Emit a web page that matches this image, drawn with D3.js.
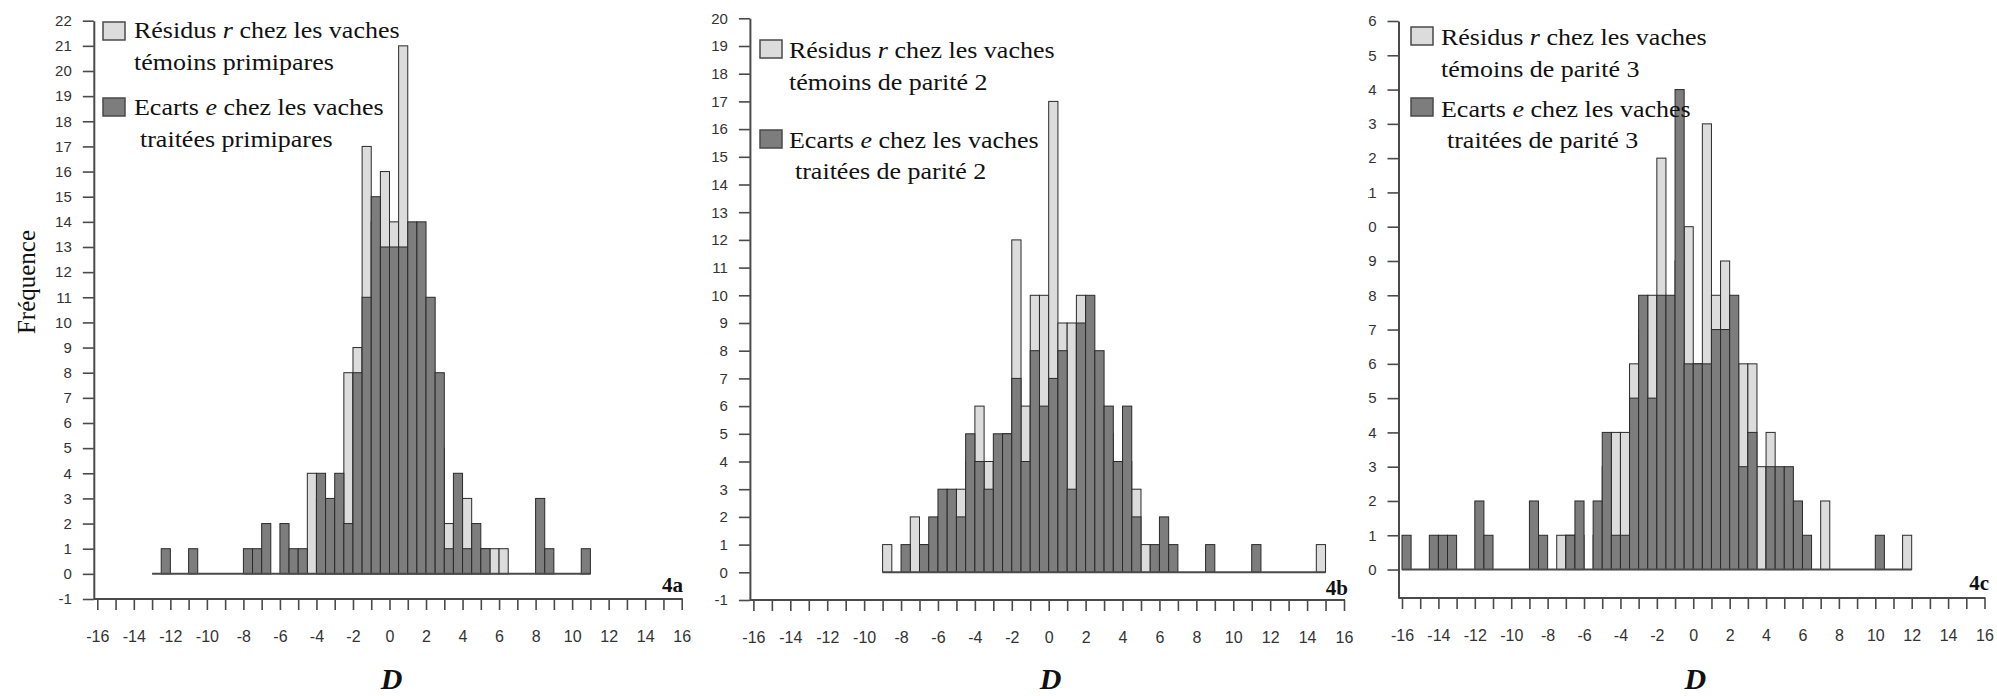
<!DOCTYPE html>
<html lang="fr">
<head>
<meta charset="UTF-8">
<title>Distribution de D</title>
<script src="https://d3js.org/d3.v7.min.js"></script>
<style>
  body{margin:0;background:#fff;}
  svg{display:block;}
  .serif{font-family:"Liberation Serif","Times New Roman",serif;fill:#111;}
</style>
</head>
<body>
<svg width="1997" height="696"></svg>
<script>
// ---- data: lower edge of each 0.5-wide bin with its counts ----
// 4a primipares
const binsA  = [-12.5,-11,-8,-7.5,-7,-6,-5.5,-5,-4.5,-4,-3.5,-3,-2.5,-2,-1.5,-1,-0.5,0,0.5,1,1.5,2,2.5,3,3.5,4,4.5,5,5.5,6,8,8.5,10.5];
const lightA = [0,0,0,0,0,0,0,0,4,3,2,3,8,9,17,14,16,14,21,12,10,7,5,2,2,3,1,1,1,1,0,0,0];
const darkA  = [1,1,1,1,2,2,1,1,0,4,3,4,2,8,11,15,13,13,13,14,14,11,8,1,4,1,2,1,0,0,3,1,1];
const spanA  = [-13, 11];
// 4b parite 2
const binsB  = [-9,-8,-7.5,-7,-6.5,-6,-5.5,-5,-4.5,-4,-3.5,-3,-2.5,-2,-1.5,-1,-0.5,0,0.5,1,1.5,2,2.5,3,3.5,4,4.5,5,5.5,6,6.5,8.5,11,14.5];
const lightB = [1,0,2,1,1,2,2,3,4,6,4,4,5,12,6,10,10,17,9,9,10,7,6,5,3,4,3,1,0,1,0,0,0,1];
const darkB  = [0,1,0,1,2,3,3,2,5,4,3,5,5,7,4,8,6,7,8,3,9,10,8,6,4,6,2,0,1,2,1,1,1,0];
const spanB  = [-9, 15];
// 4c parite 3
const binsC  = [-16,-14.5,-14,-13.5,-12,-11.5,-9,-8.5,-7.5,-7,-6.5,-5.5,-5,-4.5,-4,-3.5,-3,-2.5,-2,-1.5,-1,-0.5,0,0.5,1,1.5,2,2.5,3,3.5,4,4.5,5,5.5,6,7,10,11.5];
const lightC = [0,0,0,0,0,0,0,0,1,1,1,1,3,4,4,6,7,8,12,7,9,10,6,13,8,9,6,6,6,3,4,2,2,1,0,2,0,1];
const darkC  = [1,1,1,1,2,1,2,1,0,1,2,2,4,1,1,5,8,5,8,8,14,6,6,6,7,7,8,3,4,0,3,3,3,2,1,0,1,0];
const spanC  = [-16, 12];

// ---- ticks ----
const xTickLabels = ["-16","-14","-12","-10","-8","-6","-4","-2","0","2","4","6","8","10","12","14","16"];
const yTicksA = [-1,0,1,2,3,4,5,6,7,8,9,10,11,12,13,14,15,16,17,18,19,20,21,22];
const yTicksB = [-1,0,1,2,3,4,5,6,7,8,9,10,11,12,13,14,15,16,17,18,19,20];
const yTicksC = [0,1,2,3,4,5,6,7,8,9,10,11,12,13,14,15,16];

const legendA = ["Résidus *r* chez les vaches","témoins primipares","Ecarts *e* chez les vaches","traitées primipares"];
const legendB = ["Résidus *r* chez les vaches","témoins de parité 2","Ecarts *e* chez les vaches","traitées de parité 2"];
const legendC = ["Résidus *r* chez les vaches","témoins de parité 3","Ecarts *e* chez les vaches","traitées de parité 3"];

const LIGHT = "#dcdcdc", DARK = "#7d7d7d", EDGE = "#2a2a2a", AXIS = "#4a4a4a";
const BIN = 0.5;

const panels = [
  {tag:"4a", bins:binsA, light:lightA, dark:darkA, span:spanA, yTicks:yTicksA, yDomain:[-1,22],
   xr:[97.3,681.7], yr:[599,20.7], legend:legendA,
   sw:{x:103, y:[22,98]}, tx:[134,134,134,140], ty:[38,70,115,147], tagPos:[683,592], ylab:true},
  {tag:"4b", bins:binsB, light:lightB, dark:darkB, span:spanB, yTicks:yTicksB, yDomain:[-1,20],
   xr:[753.4,1344], yr:[600,18.3], legend:legendB,
   sw:{x:760, y:[40,130]}, tx:[789,789,789,795], ty:[58,90,148,179], tagPos:[1348,595]},
  {tag:"4c", bins:binsC, light:lightC, dark:darkC, span:spanC, yTicks:yTicksC, yDomain:[-0.83,16],
   xr:[1402,1984.5], yr:[598,21], legend:legendC,
   sw:{x:1411, y:[27,98]}, tx:[1441,1441,1441,1447], ty:[45,77,117,148], tagPos:[1989,590], clipX:1368}
];

const svg = d3.select("svg");
const defs = svg.append("defs");

panels.forEach((p, i) => {
  const g = svg.append("g");
  if (p.clipX) {
    // the left edge of this panel is cropped in the original figure
    defs.append("clipPath").attr("id","clip"+i)
      .append("rect").attr("x",p.clipX).attr("y",0).attr("width",1997-p.clipX).attr("height",696);
    g.attr("clip-path","url(#clip"+i+")");
  }
  const x = d3.scaleLinear().domain([-16,16]).range(p.xr);
  const y = d3.scaleLinear().domain(p.yDomain).range(p.yr);
  const axisX = p.xr[0] - 3.5;
  const data = p.bins.map((b,k) => ({b, l:p.light[k], d:p.dark[k]}));

  // y axis
  const ya = g.append("g").attr("transform",`translate(${axisX},0)`)
    .call(d3.axisLeft(y).tickValues(p.yTicks).tickSize(11).tickPadding(11).tickSizeOuter(0).tickFormat(d => String(d)));
  ya.select(".domain").attr("stroke",AXIS).attr("stroke-width",2);
  ya.selectAll(".tick line").attr("stroke",AXIS).attr("stroke-width",1.6);
  ya.selectAll(".tick text").attr("font-family","'Liberation Sans',Arial,sans-serif")
    .attr("font-size",15).attr("fill","#333");

  // x axis
  const xa = g.append("g").attr("transform",`translate(0,${p.yr[0]})`)
    .call(d3.axisBottom(x).tickValues(d3.range(-16,17)).tickSize(11).tickPadding(21)
      .tickFormat(d => d % 2 === 0 ? xTickLabels[(d + 16) / 2] : ""));
  xa.select(".domain").remove();
  xa.selectAll(".tick line").attr("stroke",AXIS).attr("stroke-width",1.6);
  xa.selectAll(".tick text").attr("font-family","'Liberation Sans',Arial,sans-serif")
    .attr("font-size",16).attr("fill","#333");
  g.append("line").attr("x1",axisX).attr("x2",x(16)+1).attr("y1",p.yr[0]).attr("y2",p.yr[0])
    .attr("stroke",AXIS).attr("stroke-width",2);

  // bars: controls behind, treated in front
  g.selectAll("rect.light").data(data.filter(d => d.l > 0)).join("rect").attr("class","light")
    .attr("x",d => x(d.b)).attr("width",d => x(d.b + BIN) - x(d.b))
    .attr("y",d => y(d.l)).attr("height",d => y(0) - y(d.l))
    .attr("fill",LIGHT).attr("stroke",EDGE).attr("stroke-width",1);
  g.selectAll("rect.dark").data(data.filter(d => d.d > 0)).join("rect").attr("class","dark")
    .attr("x",d => x(d.b)).attr("width",d => x(d.b + BIN) - x(d.b))
    .attr("y",d => y(d.d)).attr("height",d => y(0) - y(d.d))
    .attr("fill",DARK).attr("stroke",EDGE).attr("stroke-width",1);

  // zero line across the bin range
  g.append("line").attr("x1",x(p.span[0])).attr("x2",x(p.span[1])).attr("y1",y(0)).attr("y2",y(0))
    .attr("stroke",AXIS).attr("stroke-width",2);

  // legend
  [LIGHT, DARK].forEach((c, k) => {
    g.append("rect").attr("x",p.sw.x).attr("y",p.sw.y[k]).attr("width",22).attr("height",18)
      .attr("fill",c).attr("stroke",AXIS).attr("stroke-width",1.5);
  });
  p.legend.forEach((line, k) => {
    const t = g.append("text").attr("class","serif").attr("font-size",26)
      .attr("transform",`translate(${p.tx[k]},${p.ty[k]}) scale(1,0.86)`);
    line.split("*").forEach((part, j) => {
      t.append("tspan").attr("font-style", j % 2 ? "italic" : "normal").text(part);
    });
  });

  // panel tag and axis title
  g.append("text").attr("class","serif").attr("x",p.tagPos[0]).attr("y",p.tagPos[1])
    .attr("text-anchor","end").attr("font-size",21).attr("font-weight","bold").text(p.tag);
  g.append("text").attr("class","serif").attr("x",x(0)+2).attr("y",689)
    .attr("text-anchor","middle").attr("font-size",30).attr("font-weight","bold")
    .attr("font-style","italic").text("D");
  if (p.ylab) {
    g.append("text").attr("class","serif").attr("transform","translate(35,282) rotate(-90)")
      .attr("text-anchor","middle").attr("font-size",25).text("Fréquence");
  }
});
</script>
</body>
</html>
